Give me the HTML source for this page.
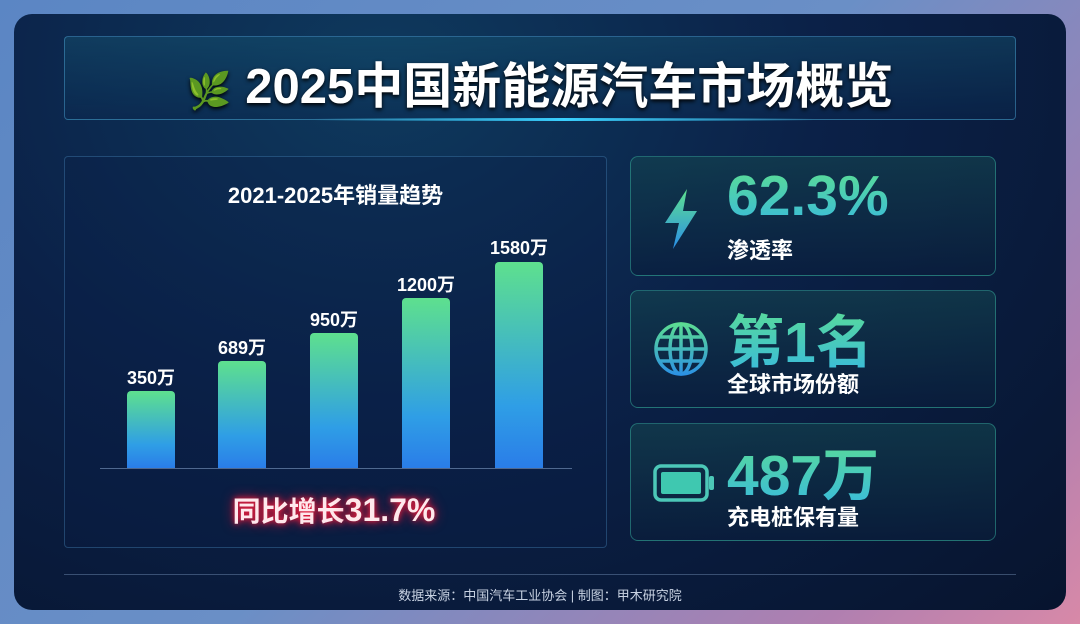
<!DOCTYPE html>
<html><head><meta charset="utf-8">
<style>
*{margin:0;padding:0;box-sizing:border-box}
body{width:1080px;height:624px;overflow:hidden;background:linear-gradient(135deg,#5b86c4 0%,#6a8fc6 50%,#b07fb0 85%,#d889a8 100%);font-family:"Liberation Sans","Noto Sans CJK SC",sans-serif;position:relative}
.panel{position:absolute;left:14px;top:14px;width:1052px;height:596px;border-radius:18px;background:radial-gradient(ellipse at 35% 10%,#0e3a5e 0%,#0b2148 45%,#07142e 100%);overflow:hidden}
.abs{position:absolute}
.title{left:50px;top:22px;width:952px;height:84px;border:1px solid rgba(80,170,220,.45);background:linear-gradient(180deg,rgba(20,80,110,.5),rgba(10,40,80,.4));border-radius:4px}
.title h1{position:absolute;left:0;right:0;top:10px;text-align:center;color:#fff;font-size:49px;font-weight:bold;text-shadow:0 2px 4px #000;white-space:nowrap}
.glow{left:300px;top:104px;width:500px;height:3px;background:linear-gradient(90deg,transparent,#3ad0ff,transparent)}
.chart{left:50px;top:142px;width:543px;height:392px;border:1px solid rgba(80,150,200,.35);border-radius:4px;background:rgba(10,30,70,.3)}
.bar{position:absolute;width:48px;border-radius:4px 4px 0 0;background:linear-gradient(180deg,#5ee08e,#2f9ee6 70%,#2a7de8)}
.lbl{position:absolute;width:90px;text-align:center;color:#fff;font-weight:bold;font-size:18px}
.card{position:absolute;left:616px;width:366px;border:1px solid rgba(60,190,170,.45);border-radius:8px;background:linear-gradient(180deg,rgba(20,70,80,.6),rgba(10,30,60,.6))}
.big{position:absolute;left:96px;top:6px;font-size:57px;font-weight:bold;background:linear-gradient(180deg,#5ee08e,#37b8e0);-webkit-background-clip:text;background-clip:text;color:transparent;white-space:nowrap}
.sub{position:absolute;left:96px;top:76px;color:#fff;font-size:22px;font-weight:bold}
</style></head><body>
<div class="panel">
 <div class="abs title"><h1><span style="color:#6fcf5a;font-size:36px">🌿</span> 2025中国新能源汽车市场概览</h1></div>
 <div class="abs glow"></div>
 <div class="abs chart"></div>
 <div class="abs" style="left:50px;top:164px;width:543px;text-align:center;color:#fff;font-size:22px;font-weight:bold">2021-2025年销量趋势</div>
 <div class="abs" style="left:86px;top:454px;width:472px;height:1px;background:rgba(150,180,220,.5)"></div>
 <div class="bar" style="left:113px;top:377px;height:77px"></div>
 <div class="bar" style="left:204px;top:347px;height:107px"></div>
 <div class="bar" style="left:296px;top:319px;height:135px"></div>
 <div class="bar" style="left:388px;top:284px;height:170px"></div>
 <div class="bar" style="left:481px;top:248px;height:206px"></div>
 <div class="lbl" style="left:92px;top:350px">350万</div>
 <div class="lbl" style="left:183px;top:320px">689万</div>
 <div class="lbl" style="left:275px;top:292px">950万</div>
 <div class="lbl" style="left:367px;top:257px">1200万</div>
 <div class="lbl" style="left:460px;top:220px">1580万</div>
 <div class="abs" style="left:120px;top:476px;width:400px;text-align:center;color:#ffe8ec;font-size:28px;font-weight:bold;text-shadow:0 0 6px #ff2040,0 0 12px #e01030">同比增长<span style="font-size:32px">31.7%</span></div>
 <div class="card" style="top:142px;height:120px"><svg class="abs" style="left:30px;top:32px" width="40" height="60" viewBox="0 0 40 60"><defs><linearGradient id="g1" gradientUnits="userSpaceOnUse" x1="0" y1="0" x2="0" y2="60"><stop offset="0" stop-color="#5ee08e"/><stop offset="1" stop-color="#2a8ee8"/></linearGradient></defs><polygon points="26,0 4,34 18,34 12,60 36,22 22,22" fill="url(#g1)"/></svg><div class="big">62.3%</div><div class="sub">渗透率</div></div>
 <div class="card" style="top:276px;height:118px"><svg class="abs" style="left:22px;top:30px" width="56" height="56" viewBox="0 0 56 56"><defs><linearGradient id="g" gradientUnits="userSpaceOnUse" x1="0" y1="0" x2="0" y2="56"><stop offset="0" stop-color="#5ee08e"/><stop offset="1" stop-color="#2a8ee8"/></linearGradient></defs><g fill="none" stroke="url(#g)" stroke-width="3.5"><circle cx="28" cy="28" r="25"/><ellipse cx="28" cy="28" rx="11" ry="25"/><line x1="28" y1="3" x2="28" y2="53"/><line x1="3" y1="28" x2="53" y2="28"/><line x1="7" y1="16" x2="49" y2="16"/><line x1="7" y1="40" x2="49" y2="40"/></g></svg><div class="big">第1名</div><div class="sub">全球市场份额</div></div>
 <div class="card" style="top:409px;height:118px"><svg class="abs" style="left:22px;top:40px" width="62" height="38" viewBox="0 0 62 38"><rect x="2" y="2" width="52" height="34" rx="6" fill="none" stroke="#4cc8b8" stroke-width="3.5"/><rect x="8" y="8" width="40" height="22" rx="2" fill="#3fc8b0"/><rect x="56" y="12" width="5" height="14" rx="2" fill="#4cc8b8"/></svg><div class="big">487万</div><div class="sub">充电桩保有量</div></div>
 <div class="abs" style="left:50px;top:560px;width:952px;height:1px;background:rgba(150,180,220,.35)"></div>
 <div class="abs" style="left:0;top:571px;width:1052px;text-align:center;color:#c8d2e2;font-size:13px">数据来源：中国汽车工业协会 | 制图：甲木研究院</div>
</div>
</body></html>
